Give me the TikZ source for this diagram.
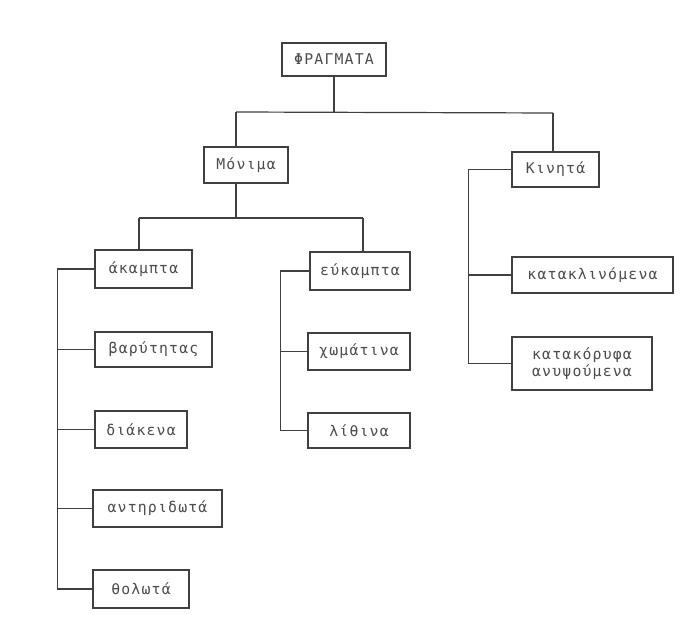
\documentclass[tikz,border=0pt]{standalone}
\usepackage{fontspec}
\newfontfamily\tw[LetterSpace=8]{DejaVu Sans Mono}
\begin{document}
\begin{tikzpicture}[x=1pt,y=-1pt,
  box/.style={draw=black!75,line width=1.2pt,rectangle,inner sep=0pt,
    font=\tw\fontsize{14.8}{17}\selectfont,text=black!70},
  conn/.style={draw=black!75,line width=1.2pt}]
\useasboundingbox[fill=white] (0,0) rectangle (687,636);
% nodes
\node[box,minimum width=104pt,minimum height=33pt] (F) at (334,59.5) {ΦΡΑΓΜΑΤΑ};
\node[box,minimum width=84pt,minimum height=36pt] (M) at (246,165) {Μόνιμα};
\node[box,minimum width=87pt,minimum height=35pt] (K) at (555.5,169.5) {Κινητά};
\node[box,minimum width=97pt,minimum height=38pt] (A) at (143.5,269) {άκαμπτα};
\node[box,minimum width=100pt,minimum height=38pt] (E) at (360,271) {εύκαμπτα};
\node[box,minimum width=117pt,minimum height=35pt] (B) at (153.5,349.5) {βαρύτητας};
\node[box,minimum width=102pt,minimum height=37pt] (X) at (359,351.5) {χωμάτινα};
\node[box,minimum width=92pt,minimum height=37pt] (D) at (141,429.5) {διάκενα};
\node[box,minimum width=102pt,minimum height=35pt] (L) at (359,430.5) {λίθινα};
\node[box,minimum width=129pt,minimum height=37pt] (AN) at (157.5,508.5) {αντηριδωτά};
\node[box,minimum width=96pt,minimum height=38pt] (TH) at (141,589) {θολωτά};
\node[box,minimum width=161pt,minimum height=36pt] (KL) at (592.5,275) {κατακλινόμενα};
\node[box,minimum width=140pt,minimum height=53pt,align=center] (KO) at (582,363.5) {κατακόρυφα\\ανυψούμενα};
% junctions
\coordinate (jm) at (236,112);
\coordinate (jk) at (553,113);
\coordinate (ja) at (139,218);
\coordinate (je) at (363,218);
% connectors
\draw[conn] (F.south) -- (F.south |- jm);
\draw[conn] (jm) -- (jk);
\draw[conn] (jm) -- (M.north -| jm);
\draw[conn] (jk) -- (K.north -| jk);
\draw[conn] (M.south -| jm) -- (jm |- ja);
\draw[conn] (ja) -- (je);
\draw[conn] (ja) -- (A.north -| ja);
\draw[conn] (je) -- (E.north -| je);
\draw[conn] (A.west) -- ++(-37,0) |- (TH.west);
\draw[conn] (B.west) -- ++(-37,0);
\draw[conn] (D.west) -- ++(-37,0);
\draw[conn] (AN.west) -- ++(-35,0);
\draw[conn] (E.west) -- ++(-29,0) |- (L.west);
\draw[conn] (X.west) -- ++(-27,0);
\draw[conn] (K.west) -- ++(-43,0) |- (KO.west);
\draw[conn] (KL.west) -- ++(-43,0);
\end{tikzpicture}
\end{document}
